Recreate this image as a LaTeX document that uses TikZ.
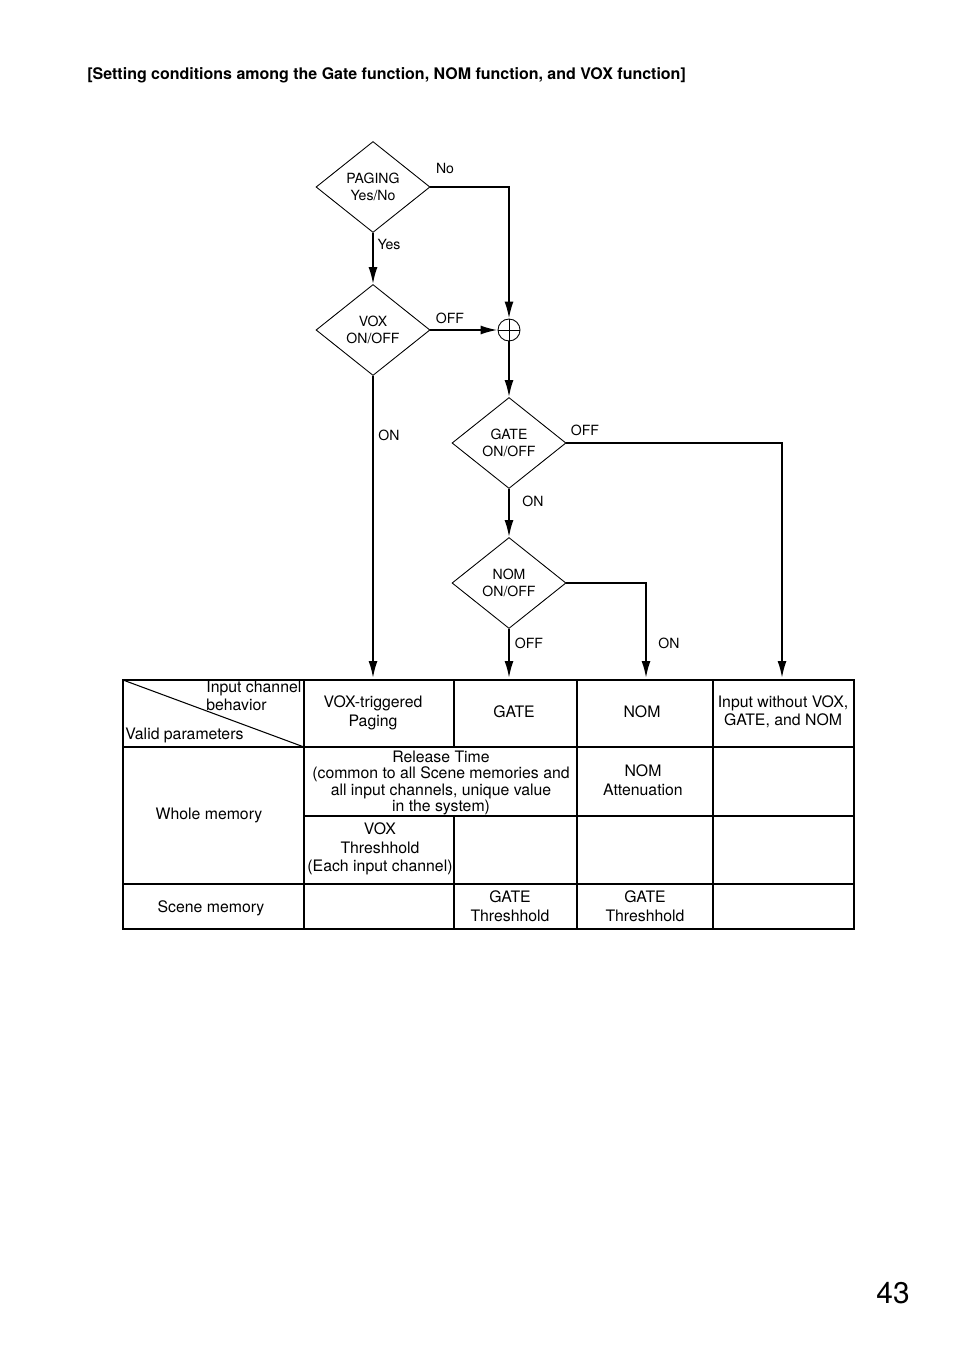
\documentclass[tikz,border=0pt]{standalone}
\usepackage{fontspec}
\setmainfont{TeX Gyre Heros}
\usetikzlibrary{positioning}
\usetikzlibrary{arrows.meta,shapes.geometric}
\usetikzlibrary{calc}
\tikzstyle{decision}=[diamond,draw,line width=0.5pt,minimum width=2.28cm,minimum height=1.82cm,inner sep=0pt,align=center,font=\fontsize{8}{10}\selectfont]
\tikzstyle{junction}=[circle,draw,line width=0.5pt,minimum size=0.44cm,inner sep=0pt]
\tikzstyle{flow}=[line width=1.1pt,-{Latex[length=0.34cm,width=0.18cm]}]
\tikzstyle{flowlabel}=[font=\fontsize{8}{10}\selectfont,inner sep=0pt]
\tikzstyle{celltext}=[align=center,font=\fontsize{9}{10.5}\selectfont,inner sep=0pt]
\tikzstyle{gridline}=[line width=0.6pt]

\begin{document}
\begin{tikzpicture}[x=0.02cm,y=-0.02cm]
\useasboundingbox (0,0) rectangle (954,1351);

\node[anchor=west,inner sep=0pt,font=\bfseries\fontsize{9.1}{11}\selectfont] (title) at (87,75) {[Setting conditions among the Gate function, NOM function, and VOX function]};

%decisions
    \foreach \pos/\name/\label in {{(373,187)/paging/{PAGING\\Yes/No}}, {(373,330)/vox/{VOX\\ON/OFF}}, {(509,443)/gate/{GATE\\ON/OFF}}, {(509,583)/nom/{NOM\\ON/OFF}}}
        \node[decision] (\name) at \pos {\label};
\node[junction] (join) at (509,330) {};
\draw[line width=0.5pt] (join.north) -- (join.south) (join.west) -- (join.east);

\coordinate (tabtop) at (0,678);
\coordinate (nomcol) at (646,678);
\coordinate (plaincol) at (782,678);

%flow
  \draw[flow] (paging.east) -| (join.north);
  \draw[flow] (paging.south) -- (vox.north);
  \draw[flow] (vox.east) -- (join.west);
  \draw[flow] (join.south) -- (gate.north);
  \draw[flow] (vox.south) -- (vox.south |- tabtop);
  \draw[flow] (gate.east) -| (plaincol);
  \draw[flow] (gate.south) -- (nom.north);
  \draw[flow] (nom.south) -- (nom.south |- tabtop);
  \draw[flow] (nom.east) -| (nomcol);

    \foreach \pos/\name/\label in {{(445,168)/lno/No}, {(389,244)/lyes/Yes}, {(450,318)/lvoxoff/OFF}, {(389,435)/lvoxon/ON}, {(585,430)/lgateoff/OFF}, {(533,501)/lgateon/ON}, {(529,643)/lnomoff/OFF}, {(669,643)/lnomon/ON}}
        \node[flowlabel] (\name) at \pos {\label};

%table
\draw[gridline] (123,680) rectangle (854,929);
  \foreach \ya/\yb in {680/747, 816/929}
          \draw[gridline] (454,\ya) -- (454,\yb);
  \foreach \x in {304, 577, 713}
          \draw[gridline] (\x,680) -- (\x,929);
  \foreach \y in {747, 884}
          \draw[gridline] (123,\y) -- (854,\y);
\draw[gridline] (304,816) -- (854,816);
\draw[gridline] (123,680) -- (304,747);

    \foreach \pos/\name/\label in {{(373,713)/hvox/{VOX-triggered\\Paging}}, {(514,712)/hgate/GATE}, {(642,712)/hnom/NOM}, {(783,712)/hplain/{Input without VOX,\\GATE, and NOM}}, {(209,815)/whole/Whole memory}, {(643,780)/nomatt/{NOM\\Attenuation}}, {(380,849)/voxthr/{VOX\\Threshhold\\(Each input channel)}}, {(211,908)/scene/Scene memory}, {(510,906)/gatethr/{GATE\\Threshhold}}, {(645,906)/nomthr/{GATE\\Threshhold}}}
        \node[celltext] (\name) at \pos {\label};
\node[celltext,align=left,anchor=west] (hinput) at (206,696) {Input channel\\behavior};
\node[celltext,anchor=west] (valid) at (125,735) {Valid parameters};
\node[celltext,font=\fontsize{9}{9.2}\selectfont] (release) at (441,783) {Release Time\\(common to all Scene memories and\\all input channels, unique value\\in the system)};

\node[font=\fontsize{17}{20}\selectfont] (pagenum) at (893,1293) {43};

\end{tikzpicture}
\end{document}
